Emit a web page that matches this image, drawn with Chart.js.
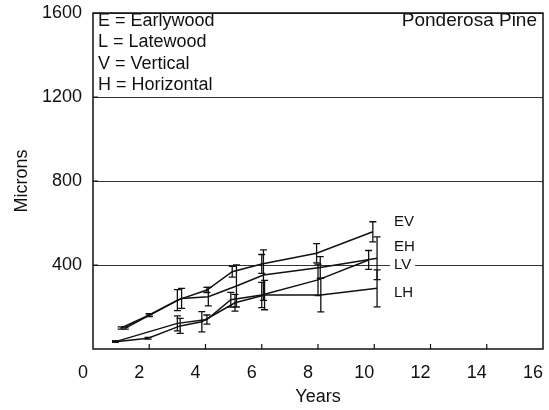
<!DOCTYPE html>
<html>
<head>
<meta charset="utf-8">
<script src="https://cdn.jsdelivr.net/npm/chart.js@4.4.1/dist/chart.umd.min.js"></script>
<style>
html, body { margin: 0; padding: 0; background: #fff; }
</style>
</head>
<body>
<canvas id="chart" width="549" height="410"></canvas>
<script>
/* Valores (micras vs anos) */
var evYears = [1.0, 2.0, 3.0, 4.05, 4.95, 6.0, 7.95, 9.95];
var evMicrons = [100, 162, 233, 281, 368, 405, 456, 558];
var evError = [5, 6, 50, 12, 26, 45, 46, 48];

var ehYears = [1.15, 2.0, 3.15, 4.1, 5.1, 6.06, 8.08, 10.1];
var ehMicrons = [100, 160, 241, 249, 300, 352, 388, 432];
var ehError = [5, 6, 48, 44, 100, 120, 52, 102];

var lvYears = [0.8, 3.0, 4.05, 4.9, 6.0, 8.0, 9.8];
var lvMicrons = [35, 122, 140, 235, 257, 329, 424];
var lvError = [3, 36, 22, 35, 60, 75, 45];

var lhYears = [0.8, 1.96, 3.1, 3.87, 5.05, 6.1, 8.1, 10.1];
var lhMicrons = [35, 51, 110, 130, 220, 257, 257, 289];
var lhError = [3, 4, 36, 48, 40, 70, 80, 88];

var seriesNames = ['EV', 'EH', 'LV', 'LH'];
var seriesLabelYear = 10.7;
var seriesLabelMicrons = [605, 486, 403, 267];

var legendLines = ['E = Earlywood', 'L = Latewood', 'V = Vertical', 'H = Horizontal'];
var plotTitle = 'Ponderosa Pine';
var xTickValues = [0, 2, 4, 6, 8, 10, 12, 14, 16];
var yTickValues = [400, 800, 1200, 1600];

var fontFamily = "'Liberation Sans', Arial, Helvetica, sans-serif";

/*Arma los puntos {x, y} de una serie*/
function buildPoints(xs, ys){
	var i, points = [];
	for(i = 0; i < xs.length; i++){
		points.push({x: xs[i], y: ys[i]});
	}
	return points;
}

function buildDataset(name, xs, ys, errs){
	return {
		label: name,
		data: buildPoints(xs, ys),
		errors: errs,
		borderColor: '#111',
		borderWidth: 1.5,
		pointRadius: 0,
		tension: 0,
		fill: false
	};
}

/*Quita el relleno extra que Chart.js reserva para las etiquetas*/
function noScalePadding(scale){
	scale.paddingLeft = 0;
	scale.paddingRight = 0;
	scale.paddingTop = 0;
	scale.paddingBottom = 0;
}

/*Marco, ticks interiores, barras de error y textos*/
var decorPlugin = {
	id: 'decor',
	afterDatasetsDraw: function(chart){
		var ctx = chart.ctx, yScale = chart.scales.y, iSet, meta, ds, j, p, top, bottom;
		ctx.save();
		ctx.strokeStyle = '#111';
		ctx.lineWidth = 1.3;
		for(iSet = 0; iSet < chart.data.datasets.length; iSet++){
			ds = chart.data.datasets[iSet];
			meta = chart.getDatasetMeta(iSet);
			for(j = 0; j < meta.data.length; j++){
				p = meta.data[j];
				top = yScale.getPixelForValue(ds.data[j].y + ds.errors[j]);
				bottom = yScale.getPixelForValue(ds.data[j].y - ds.errors[j]);
				ctx.beginPath();
				ctx.moveTo(p.x, top);
				ctx.lineTo(p.x, bottom);
				ctx.moveTo(p.x - 3.5, top);
				ctx.lineTo(p.x + 3.5, top);
				ctx.moveTo(p.x - 3.5, bottom);
				ctx.lineTo(p.x + 3.5, bottom);
				ctx.stroke();
			}
		}
		ctx.restore();
	},
	afterDraw: function(chart){
		var ctx = chart.ctx, area = chart.chartArea, xScale = chart.scales.x,
			yScale = chart.scales.y, i, px, py, w;
		ctx.save();
		/* marco */
		ctx.strokeStyle = '#111';
		ctx.lineWidth = 1.5;
		ctx.strokeRect(area.left, area.top, area.right - area.left, area.bottom - area.top);
		/* ticks interiores */
		ctx.lineWidth = 1.2;
		ctx.beginPath();
		for(i = 1; i < xTickValues.length - 1; i++){
			px = xScale.getPixelForValue(xTickValues[i]);
			ctx.moveTo(px, area.bottom);
			ctx.lineTo(px, area.bottom - 5);
		}
		for(i = 0; i < yTickValues.length - 1; i++){
			py = yScale.getPixelForValue(yTickValues[i]);
			ctx.moveTo(area.left, py);
			ctx.lineTo(area.left + 5, py);
		}
		ctx.stroke();
		/* leyenda de abreviaturas */
		ctx.fillStyle = '#111';
		ctx.font = '18px ' + fontFamily;
		ctx.textBaseline = 'middle';
		ctx.textAlign = 'left';
		for(i = 0; i < legendLines.length; i++){
			ctx.fillText(legendLines[i], area.left + 5, area.top + 8 + i * 21.3);
		}
		ctx.textAlign = 'right';
		ctx.font = '19px ' + fontFamily;
		ctx.fillText(plotTitle, area.right - 6, area.top + 8);
		/* nombres de series */
		ctx.font = '15px ' + fontFamily;
		ctx.textAlign = 'left';
		for(i = 0; i < seriesNames.length; i++){
			px = xScale.getPixelForValue(seriesLabelYear);
			py = yScale.getPixelForValue(seriesLabelMicrons[i]);
			w = ctx.measureText(seriesNames[i]).width;
			ctx.fillStyle = '#fff';
			ctx.fillRect(px - 4, py - 8, w + 8, 16);
			ctx.fillStyle = '#111';
			ctx.fillText(seriesNames[i], px, py);
		}
		ctx.restore();
	}
};

var chart = new Chart(document.getElementById('chart'), {
	type: 'line',
	data: {
		datasets: [
			buildDataset('EV', evYears, evMicrons, evError),
			buildDataset('EH', ehYears, ehMicrons, ehError),
			buildDataset('LV', lvYears, lvMicrons, lvError),
			buildDataset('LH', lhYears, lhMicrons, lhError)
		]
	},
	options: {
		responsive: false,
		animation: false,
		devicePixelRatio: 1,
		layout: { padding: { left: 0, right: 6, top: 13, bottom: 0 } },
		plugins: { legend: { display: false }, tooltip: { enabled: false } },
		scales: {
			x: {
				type: 'linear',
				min: 0,
				max: 16,
				afterBuildTicks: function(scale){
					scale.ticks = xTickValues.map(function(v){ return {value: v}; });
				},
				afterFit: function(scale){
					scale.height = 61;
					noScalePadding(scale);
				},
				grid: { display: false, drawTicks: false },
				border: { display: false },
				ticks: {
					color: '#111',
					font: { family: fontFamily, size: 18 },
					padding: 13,
					labelOffset: -10,
					maxRotation: 0,
					autoSkip: false,
					callback: function(v){ return String(v); }
				},
				title: {
					display: true,
					text: 'Years',
					color: '#111',
					font: { family: fontFamily, size: 18 },
					padding: { top: 0, bottom: 2 }
				}
			},
			y: {
				min: 0,
				max: 1600,
				afterBuildTicks: function(scale){
					scale.ticks = yTickValues.map(function(v){ return {value: v}; });
				},
				afterFit: function(scale){
					scale.width = 93;
					noScalePadding(scale);
				},
				grid: { color: '#333', lineWidth: 1, drawTicks: false },
				border: { display: false },
				ticks: {
					color: '#111',
					font: { family: fontFamily, size: 18 },
					padding: 11,
					callback: function(v){ return String(v); }
				},
				title: {
					display: true,
					text: 'Microns',
					color: '#111',
					font: { family: fontFamily, size: 18 },
					padding: { top: 11, bottom: 0 }
				}
			}
		}
	},
	plugins: [decorPlugin]
});
</script>
</body>
</html>
